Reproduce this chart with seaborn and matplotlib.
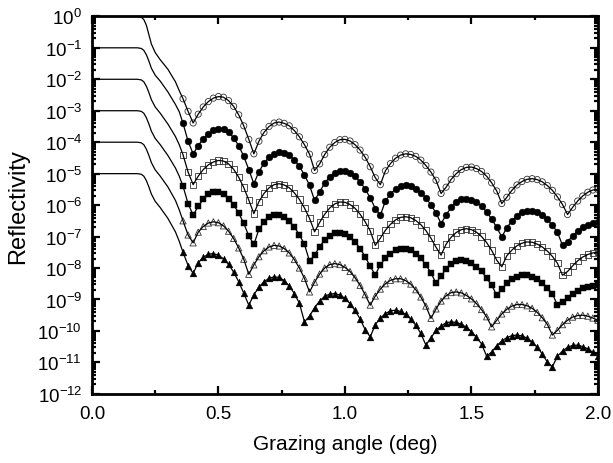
import numpy as np
import pandas as pd
import matplotlib
matplotlib.use("Agg")
import matplotlib.pyplot as plt
import seaborn as sns

# grazing angle grid (deg)
x_pre = [0.0, 0.10, 0.18, 0.195, 0.205, 0.215, 0.225, 0.235, 0.25, 0.27, 0.30, 0.33, 0.345]
x_meas = np.round(np.arange(0.36, 2.001, 0.02), 2)

# log10(reflectivity), each sample offset by one decade
pre1 = [0, 0, 0, -0.03, -0.10, -0.28, -0.58, -0.88, -1.15, -1.38, -1.68, -2.08, -2.36]
pre2 = [-1, -1, -1, -1.02, -1.08, -1.22, -1.42, -1.65, -1.87, -2.06, -2.40, -2.80, -3.03]
pre3 = [-2, -2, -2, -2.02, -2.08, -2.22, -2.42, -2.65, -2.88, -3.08, -3.42, -3.82, -4.08]
pre4 = [-3, -3, -3, -3.02, -3.08, -3.22, -3.42, -3.65, -3.88, -4.08, -4.42, -4.82, -5.08]
pre5 = [-4, -4, -4, -4.02, -4.08, -4.22, -4.42, -4.65, -4.88, -5.08, -5.42, -5.85, -6.15]
pre6 = [-5, -5, -5, -5.02, -5.08, -5.22, -5.42, -5.65, -5.88, -6.08, -6.42, -6.85, -7.15]

s1 = [-2.62, -3.02, -3.39, -3.11, -2.88, -2.71, -2.60, -2.55, -2.57, -2.68, -2.86, -3.13, -3.48, -3.91, -4.37,
      -3.97, -3.69, -3.50, -3.39, -3.36, -3.40, -3.48, -3.63, -3.83, -4.08, -4.38, -4.90,
      -4.69, -4.39, -4.16, -4.01, -3.92, -3.91, -3.96, -4.08, -4.25, -4.48, -4.78, -5.13, -5.35,
      -4.91, -4.68, -4.51, -4.41, -4.37, -4.39, -4.45, -4.57, -4.74, -4.95, -5.21, -5.63,
      -5.43, -5.18, -5.00, -4.87, -4.80, -4.79, -4.84, -4.93, -5.08, -5.29, -5.55, -5.95,
      -5.75, -5.53, -5.36, -5.25, -5.18, -5.16, -5.19, -5.26, -5.38, -5.53, -5.74, -5.98, -6.30,
      -6.07, -5.87, -5.71, -5.59, -5.52, -5.50]
s2 = [-3.40, -3.97, -4.37, -4.11, -3.89, -3.73, -3.62, -3.57, -3.59, -3.68, -3.86, -4.11, -4.45, -4.87, -5.32,
      -4.94, -4.67, -4.48, -4.36, -4.31, -4.33, -4.42, -4.56, -4.77, -5.04, -5.37, -5.85,
      -5.58, -5.30, -5.10, -4.97, -4.90, -4.91, -4.97, -5.09, -5.26, -5.49, -5.77, -6.11, -6.32,
      -5.87, -5.64, -5.49, -5.39, -5.37, -5.40, -5.48, -5.60, -5.77, -5.99, -6.25, -6.59,
      -6.31, -6.07, -5.90, -5.81, -5.79, -5.83, -5.91, -6.04, -6.22, -6.44, -6.71, -7.01,
      -6.72, -6.50, -6.34, -6.23, -6.18, -6.18, -6.22, -6.31, -6.45, -6.64, -6.86, -7.28,
      -7.16, -6.98, -6.82, -6.70, -6.62, -6.57, -6.55]
s3 = [-4.40, -4.95, -5.35, -5.08, -4.87, -4.72, -4.63, -4.58, -4.60, -4.69, -4.86, -5.11, -5.44, -5.84, -6.27,
      -5.89, -5.63, -5.45, -5.35, -5.32, -5.36, -5.45, -5.61, -5.82, -6.09, -6.42, -6.85,
      -6.55, -6.29, -6.09, -5.96, -5.90, -5.91, -5.98, -6.10, -6.29, -6.53, -6.82, -7.28,
      -7.05, -6.80, -6.61, -6.47, -6.39, -6.37, -6.40, -6.49, -6.62, -6.81, -7.05, -7.34, -7.59,
      -7.24, -7.02, -6.87, -6.78, -6.75, -6.78, -6.86, -7.00, -7.19, -7.44, -7.75, -7.96,
      -7.61, -7.43, -7.29, -7.21, -7.17, -7.18, -7.24, -7.33, -7.46, -7.63, -7.85, -8.23,
      -8.11, -7.93, -7.77, -7.65, -7.57, -7.52, -7.50]
s4 = [-5.40, -5.95, -6.32, -6.04, -5.81, -5.66, -5.59, -5.59, -5.65, -5.79, -5.99, -6.25, -6.58, -6.98, -7.25,
      -6.77, -6.53, -6.38, -6.30, -6.31, -6.38, -6.51, -6.70, -6.94, -7.25, -7.78,
      -7.59, -7.32, -7.11, -6.97, -6.90, -6.88, -6.93, -7.02, -7.17, -7.38, -7.64, -7.95, -8.22,
      -7.89, -7.69, -7.54, -7.44, -7.39, -7.39, -7.44, -7.54, -7.69, -7.90, -8.15, -8.49,
      -8.25, -8.03, -7.88, -7.79, -7.76, -7.78, -7.85, -7.96, -8.11, -8.31, -8.55, -8.86,
      -8.67, -8.49, -8.36, -8.28, -8.23, -8.23, -8.27, -8.35, -8.47, -8.63, -8.82, -9.18,
      -9.09, -8.95, -8.83, -8.73, -8.65, -8.59, -8.56, -8.55]
s5 = [-6.50, -6.95, -7.20, -6.86, -6.68, -6.57, -6.53, -6.56, -6.66, -6.83, -7.06, -7.36, -7.72, -8.20,
      -7.90, -7.64, -7.45, -7.33, -7.28, -7.30, -7.38, -7.52, -7.73, -8.00, -8.33, -8.76,
      -8.45, -8.19, -8.00, -7.89, -7.86, -7.89, -7.98, -8.11, -8.31, -8.55, -8.85, -9.18,
      -8.89, -8.67, -8.50, -8.39, -8.34, -8.34, -8.40, -8.51, -8.69, -8.92, -9.21, -9.60,
      -9.30, -9.05, -8.88, -8.78, -8.76, -8.79, -8.87, -8.98, -9.13, -9.32, -9.55, -9.87,
      -9.66, -9.46, -9.31, -9.21, -9.16, -9.16, -9.20, -9.28, -9.41, -9.58, -9.79, -10.13,
      -9.98, -9.80, -9.66, -9.56, -9.51, -9.50, -9.53, -9.59, -9.66]
s6 = [-7.50, -7.92, -8.17, -7.83, -7.66, -7.56, -7.54, -7.59, -7.71, -7.88, -8.13, -8.43, -8.80, -9.18,
      -8.85, -8.61, -8.43, -8.33, -8.28, -8.30, -8.40, -8.57, -8.81, -9.12, -9.71,
      -9.53, -9.26, -9.05, -8.90, -8.83, -8.81, -8.86, -8.96, -9.13, -9.35, -9.62, -9.96, -10.19,
      -9.80, -9.59, -9.45, -9.36, -9.34, -9.38, -9.47, -9.62, -9.82, -10.08, -10.45,
      -10.22, -9.98, -9.84, -9.74, -9.71, -9.73, -9.79, -9.88, -10.02, -10.20, -10.41, -10.80,
      -10.67, -10.47, -10.32, -10.21, -10.15, -10.13, -10.16, -10.23, -10.35, -10.52, -10.73, -10.99, -11.14,
      -10.80, -10.64, -10.52, -10.46, -10.45, -10.50, -10.57, -10.68, -10.80]

samples = ["s1", "s2", "s3", "s4", "s5", "s6"]
pres = [pre1, pre2, pre3, pre4, pre5, pre6]
meas = [s1, s2, s3, s4, s5, s6]
markers = ["o", "o", "s", "s", "^", "^"]
filled = [False, True, False, True, False, True]

sns.set_style("ticks")
plt.rcParams["font.family"] = ["Liberation Sans", "DejaVu Sans"]
plt.rcParams["mathtext.fontset"] = "custom"
plt.rcParams["mathtext.rm"] = "Liberation Sans"
for key in ["text.color", "axes.labelcolor", "xtick.color", "ytick.color", "axes.edgecolor"]:
    plt.rcParams[key] = "black"

fig = plt.figure(figsize=(6.13, 4.64), dpi=100)
ax = fig.add_axes([0.150, 0.149, 0.8254, 0.8136])

for name, pre, m, mk, fl in zip(samples, pres, meas, markers, filled):
    fit = pd.DataFrame({"angle": list(x_pre) + list(x_meas),
                        "R": 10.0 ** np.array(pre + m)})
    pts = pd.DataFrame({"angle": x_meas, "R": 10.0 ** np.array(m)})
    if fl:
        sns.scatterplot(data=pts, x="angle", y="R", marker=mk, s=24,
                        color="black", edgecolor="black", linewidth=0.3, ax=ax, zorder=2)
    else:
        sns.scatterplot(data=pts, x="angle", y="R", marker=mk, s=20,
                        facecolor="none", edgecolor="#333333", linewidth=0.6, ax=ax, zorder=2)
    sns.lineplot(data=fit, x="angle", y="R", color="black", linewidth=0.9,
                 sort=False, errorbar=None, ax=ax, zorder=3)

ax.set_yscale("log")
ax.set_xlim(0, 2.0)
ax.set_ylim(1e-12, 1e0)
ax.set_xticks([0.0, 0.5, 1.0, 1.5, 2.0])
ax.set_xticklabels(["0.0", "0.5", "1.0", "1.5", "2.0"])
ax.set_xticks([0.25, 0.75, 1.25, 1.75], minor=True)
ax.set_yticks([10.0 ** k for k in range(-12, 1)])
ax.yaxis.set_minor_locator(matplotlib.ticker.LogLocator(base=10, subs=np.arange(2, 10), numticks=30))
ax.yaxis.set_minor_formatter(matplotlib.ticker.NullFormatter())

ax.tick_params(which="both", direction="in", top=True, right=True, width=1.6,
               labelsize=13.5, color="black", labelcolor="black")
ax.tick_params(which="major", length=6)
ax.tick_params(which="minor", length=3)
ax.tick_params(axis="x", which="major", pad=8)
ax.tick_params(axis="y", which="major", pad=7)
for sp in ax.spines.values():
    sp.set_linewidth(2.0)
    sp.set_color("black")

ax.set_xlabel("Grazing angle (deg)", fontsize=15, labelpad=9, color="black")
ax.set_ylabel("Reflectivity", fontsize=17, labelpad=6, color="black")

fig.savefig("out.png", dpi=100)
